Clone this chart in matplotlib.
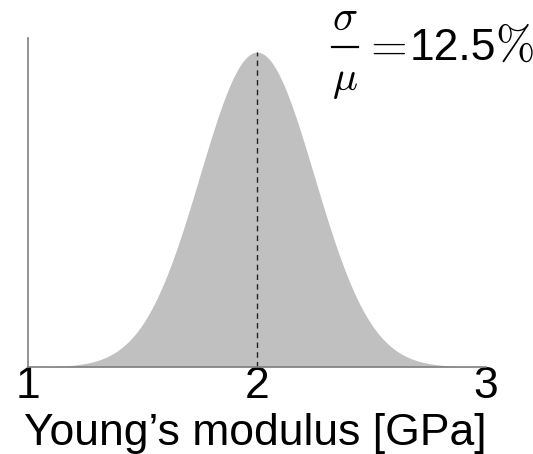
import numpy as np
import matplotlib
matplotlib.use("Agg")
import matplotlib.pyplot as plt
from matplotlib.lines import Line2D

plt.rcParams['font.family'] = ['Liberation Sans', 'DejaVu Sans']
plt.rcParams['mathtext.fontset'] = 'cm'

mean_gpa = 2.0
cv = 0.125
x_ticks = [1, 2, 3]
x_tick_labels = ["1", "2", "3"]
x_label = "Young\u2019s modulus [GPa]"
cv_label = "12.5"

W, H = 533, 454
def fx(px):
    return px / W
def fy(py):
    return 1 - py / H

sigma = mean_gpa * cv
x = np.linspace(1, 3, 600)
pdf = np.exp(-0.5 * ((x - mean_gpa) / sigma) ** 2) / (sigma * np.sqrt(2 * np.pi))
peak = 1 / (sigma * np.sqrt(2 * np.pi))

fig = plt.figure(figsize=(5.33, 4.54), dpi=100)
ax = fig.add_axes([fx(28), fy(367), fx(486) - fx(28), fy(38) - fy(367)])
ax.fill_between(x, 0, pdf, color='#c0c0c0', linewidth=0)
ax.plot([mean_gpa, mean_gpa], [0, peak], color='#222222', linewidth=1.0, dashes=(4, 3))
ax.set_xlim(1, 3)
ax.set_ylim(0, peak * 1.045)
for s in ['top', 'right']:
    ax.spines[s].set_visible(False)
for s in ['left', 'bottom']:
    ax.spines[s].set_color('#808080')
    ax.spines[s].set_linewidth(1.2)
ax.set_yticks([])
ax.set_xticks(x_ticks)
ax.set_xticklabels(x_tick_labels, fontsize=32)
ax.tick_params(axis='x', length=0, pad=-1)
ax.set_xlabel(x_label, fontsize=32, va='baseline')
ax.xaxis.set_label_coords((255 - 28) / 458, (367 - 445) / 329)

# sigma / mu annotation
fig.text(fx(345), fy(30), r'$\sigma$', fontsize=30, ha='center', va='baseline')
fig.add_artist(Line2D([fx(332), fx(358)], [fy(47), fy(47)], color='black', linewidth=1.6))
fig.text(fx(345), fy(90), r'$\mu$', fontsize=30, ha='center', va='baseline')
fig.text(fx(362), fy(60), r'$=$', fontsize=34, ha='left', va='baseline')
fig.text(fx(410), fy(60), cv_label, fontsize=32, ha='left', va='baseline')
fig.text(fx(495), fy(60), r'$\%$', fontsize=34, ha='left', va='baseline')
fig.savefig('out.png', dpi=100)
